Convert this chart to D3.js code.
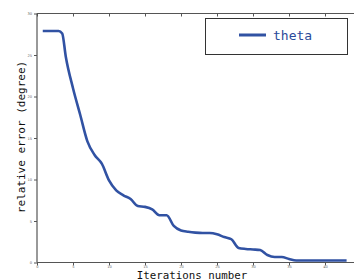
<!DOCTYPE html>
<html><head><meta charset="utf-8">
<script src="https://cdn.jsdelivr.net/npm/d3@7"></script>
<style>body{margin:0;background:#fff;}svg{display:block;}</style>
</head><body>
<svg id="chart" width="354" height="280"></svg>
<script>
const iterations = [0.8,2,3,3.5,4,5,6,7,8,9,10,11,12,13,14,15,16,17,18,19,20,21,22,23,24,25,26,27,28,29,30,31,32,33,34,35,36,37,38,39,40,41,42,43];
const theta = [27.9,27.9,27.9,27.6,24.8,21.0,17.8,14.6,12.95,11.9,9.9,8.7,8.1,7.65,6.8,6.7,6.4,5.7,5.7,4.4,3.85,3.7,3.6,3.55,3.55,3.4,3.07,2.8,1.75,1.63,1.57,1.5,0.9,0.66,0.66,0.42,0.24,0.24,0.24,0.24,0.24,0.24,0.24,0.24];
const xTicks = [0,5,10,15,20,25,30,35,40];
const yTicks = [0,5,10,15,20,25,30];
const seriesName = "theta";

const svg = d3.select("#chart");
const x = d3.scaleLinear().domain([0,45]).range([37,361]);
const y = d3.scaleLinear().domain([0,30]).range([262.5,13.5]);
const axisColor = "#555";

const gx = svg.append("g").attr("transform","translate(0,262.5)")
  .call(d3.axisBottom(x).tickValues(xTicks).tickSize(3).tickPadding(0));
const gxt = svg.append("g").attr("transform","translate(0,13.5)")
  .call(d3.axisBottom(x).tickValues(xTicks).tickSize(3).tickFormat(""));
const gy = svg.append("g").attr("transform","translate(37,0)")
  .call(d3.axisLeft(y).tickValues(yTicks).tickSize(3).tickPadding(2));
[gx,gxt,gy].forEach(g=>{
  g.select(".domain").attr("stroke",axisColor).attr("stroke-width",1.2);
  g.selectAll(".tick line").attr("stroke",axisColor);
  g.selectAll(".tick text").attr("fill","#666").attr("font-size","3.6px").attr("font-family","DejaVu Sans");
});
gy.select(".domain").attr("d","M0,13.5V262.5");
gx.select(".domain").attr("d","M37,0H361");
gxt.select(".domain").attr("d","M37,0H361");

const line = d3.line().x((d,i)=>x(iterations[i])).y(d=>y(d)).curve(d3.curveMonotoneX);
svg.append("path").datum(theta).attr("d",line)
  .attr("fill","none").attr("stroke","#3152a3").attr("stroke-width",2.6)
  .attr("stroke-linejoin","round");

svg.append("text").attr("x",192).attr("y",278.5).attr("text-anchor","middle")
  .attr("font-family","DejaVu Sans Mono").attr("font-size","10.8px").attr("fill","#111")
  .text("Iterations number");
svg.append("text").attr("transform","translate(25,137) rotate(-90)").attr("text-anchor","middle")
  .attr("font-family","DejaVu Sans Mono").attr("font-size","11px").attr("fill","#111")
  .text("relative error (degree)");

const lg = svg.append("g");
lg.append("rect").attr("x",205.5).attr("y",18.5).attr("width",142).attr("height",36)
  .attr("fill","#fff").attr("stroke","#333").attr("stroke-width",1);
lg.append("line").attr("x1",239).attr("x2",266).attr("y1",35).attr("y2",35)
  .attr("stroke","#3152a3").attr("stroke-width",3);
lg.append("text").attr("x",273).attr("y",40).attr("font-family","DejaVu Sans Mono")
  .attr("font-size","13px").attr("fill","#2b4a9a").text(seriesName);
</script>
</body></html>
